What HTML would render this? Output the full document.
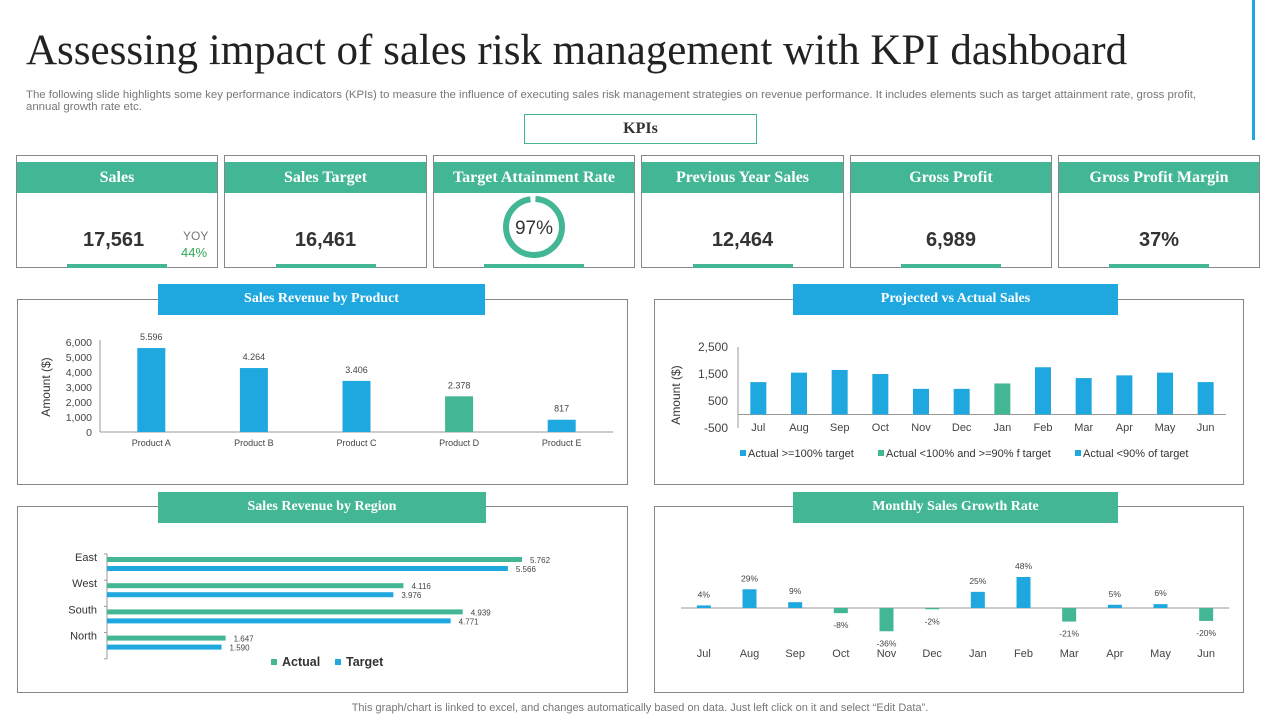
<!DOCTYPE html>
<html><head><meta charset="utf-8"><style>
*{box-sizing:border-box;margin:0;padding:0}
body{width:1280px;height:720px;background:#fff;position:relative;overflow:hidden;font-family:"Liberation Sans",sans-serif;color:#333}
.abs{position:absolute}
.serif{font-family:"Liberation Serif",serif}
.card{position:absolute;top:155px;height:113px;border:1px solid #888;background:#fff}
.card .hd{position:absolute;left:0;right:0;top:6px;height:31px;background:#43b795;color:#fff;font:bold 16px "Liberation Serif",serif;text-align:center;line-height:31px}
.card .val{position:absolute;top:73px;left:0;right:0;text-align:center;font:bold 20px "Liberation Sans",sans-serif;color:#333}
.card .bar{position:absolute;bottom:-1px;left:50%;width:100px;margin-left:-50px;height:4px;background:#43b795}
.panel{position:absolute;border:1px solid #888}
.tab{position:absolute;height:31px;color:#fff;font:bold 14px "Liberation Serif",serif;text-align:center;line-height:30px}
svg text{font-family:"Liberation Sans",sans-serif}
</style></head><body>
<div class="abs" style="left:1252px;top:0;width:3px;height:140px;background:#1fa8e0"></div>
<div class="abs serif" style="left:26px;top:27px;font-size:43px;line-height:48px;color:#222">Assessing impact of sales risk management with KPI dashboard</div>
<div class="abs" style="left:26px;top:89px;width:1200px;font-size:11.4px;line-height:12px;color:#777">The following slide highlights some key performance indicators (KPIs) to measure the influence of executing sales risk management strategies on revenue performance. It includes elements such as target attainment rate, gross profit, annual growth rate etc.</div>
<div class="abs serif" style="left:524px;top:114px;width:233px;height:30px;border:1px solid #43b795;text-align:center;line-height:28px;font-size:16px;font-weight:bold;color:#333">KPIs</div>

<div class="card" style="left:16px;width:202px"><div class="hd">Sales</div><div class="val" style="left:0;right:auto;width:200px;text-align:left;padding-left:66px">17,561</div><div class="abs" style="left:166px;top:73px;font-size:12px;color:#777">YOY</div><div class="abs" style="left:164px;top:89px;font-size:13px;color:#2eaa55">44%</div><div class="bar"></div></div>
<div class="card" style="left:224px;width:203px"><div class="hd">Sales Target</div><div class="val">16,461</div><div class="bar"></div></div>
<div class="card" style="left:433px;width:202px"><div class="hd">Target Attainment Rate</div>
<svg class="abs" style="left:67px;top:38px" width="66" height="66"><circle cx="33" cy="33" r="28" fill="none" stroke="#43b795" stroke-width="6" stroke-dasharray="170.6 5.3" transform="rotate(-87 33 33)"/><text x="33" y="40" text-anchor="middle" font-size="19" fill="#333">97%</text></svg><div class="bar"></div></div>
<div class="card" style="left:641px;width:203px"><div class="hd">Previous Year Sales</div><div class="val">12,464</div><div class="bar"></div></div>
<div class="card" style="left:850px;width:202px"><div class="hd">Gross Profit</div><div class="val">6,989</div><div class="bar"></div></div>
<div class="card" style="left:1058px;width:202px"><div class="hd">Gross Profit Margin</div><div class="val">37%</div><div class="bar"></div></div>

<div class="panel" style="left:17px;top:299px;width:611px;height:186px"></div>
<div class="tab" style="left:158px;top:284px;width:327px;background:#1fa8e0">Sales Revenue by Product</div>
<div class="panel" style="left:654px;top:299px;width:590px;height:186px"></div>
<div class="tab" style="left:793px;top:284px;width:325px;background:#1fa8e0">Projected vs Actual Sales</div>
<div class="panel" style="left:17px;top:506px;width:611px;height:187px"></div>
<div class="tab" style="left:158px;top:492px;width:328px;background:#43b795">Sales Revenue by Region</div>
<div class="panel" style="left:654px;top:506px;width:590px;height:187px"></div>
<div class="tab" style="left:793px;top:492px;width:325px;background:#43b795">Monthly Sales Growth Rate</div>

<svg class="abs" style="left:0;top:0" width="1280" height="720" id="charts">
<g id="g1"></g><g id="g2"></g><g id="g3"></g><g id="g4"></g>
</svg>
<div class="abs" style="left:0;width:1280px;top:702px;text-align:center;font-size:11px;color:#777">This graph/chart is linked to excel, and changes automatically based on data. Just left click on it and select “Edit Data”.</div>
<script>
const productCats=["Product A","Product B","Product C","Product D","Product E"];
const productVals=[5596,4264,3406,2378,817];
const productTicks=[0,1000,2000,3000,4000,5000,6000];
const months=["Jul","Aug","Sep","Oct","Nov","Dec","Jan","Feb","Mar","Apr","May","Jun"];
const actualVals=[1200,1550,1650,1500,950,950,1150,1750,1350,1450,1550,1200];
const actualStatus=[0,0,0,0,0,0,1,0,0,0,0,0];
const projTicks=[-500,500,1500,2500];
const regions=["East","West","South","North"];
const regionActual=[5762,4116,4939,1647];
const regionTarget=[5566,3976,4771,1590];
const growthVals=[4,29,9,-8,-36,-2,25,48,-21,5,6,-20];
const BLUE="#1fa8e0",GREEN="#43b795",NS="http://www.w3.org/2000/svg";
function el(p,t,a,txt){const e=document.createElementNS(NS,t);for(const k in a)e.setAttribute(k,a[k]);if(txt!=null)e.textContent=txt;p.appendChild(e);return e;}
const fmt=v=>v.toLocaleString("en-US");
// Chart 1
(function(){const g=document.getElementById("g1");
const x0=100,x1=613,yz=432,yt=342,maxV=6000;const y=v=>yz-(v/maxV)*(yz-yt);const bw=(x1-x0)/productCats.length;
el(g,"line",{x1:x0,y1:yt-2,x2:x0,y2:yz,stroke:"#999"});el(g,"line",{x1:x0,y1:yz,x2:x1,y2:yz,stroke:"#999"});
productTicks.forEach(t=>{const e=el(g,"text",{x:x0-8,y:y(t)+4,"text-anchor":"end","font-size":10.5,fill:"#444"},fmt(t));});
const at=el(g,"text",{x:50,y:yz-45,"text-anchor":"middle","font-size":12,fill:"#333","font-family":"Liberation Serif",transform:`rotate(-90 50 ${yz-45})`},"Amount ($)");
productCats.forEach((c,i)=>{const cx=x0+bw*(i+.5),v=productVals[i];
const r=el(g,"rect",{x:cx-14,y:y(v),width:28,height:yz-y(v),fill:i==3?GREEN:BLUE});
el(g,"text",{x:cx,y:y(v)-8,"text-anchor":"middle","font-size":9,fill:"#444","font-family":"Liberation Serif"},fmt(v).replace(",","."));
const l=el(g,"text",{x:cx,y:yz+14,"text-anchor":"middle","font-size":9,fill:"#444"},c);});})();
// Chart 2
(function(){const g=document.getElementById("g2");
const x0=738,x1=1226,ylo=428,yhi=347,vlo=-500,vhi=2500;const y=v=>ylo-(v-vlo)/(vhi-vlo)*(ylo-yhi);const bw=(x1-x0)/months.length;
el(g,"line",{x1:x0,y1:yhi,x2:x0,y2:ylo,stroke:"#999"});el(g,"line",{x1:x0,y1:y(0),x2:x1,y2:y(0),stroke:"#999"});
projTicks.forEach(t=>{const e=el(g,"text",{x:x0-10,y:y(t)+4,"text-anchor":"end","font-size":12,fill:"#444"},fmt(t));});
const at=el(g,"text",{x:680,y:395,"text-anchor":"middle","font-size":12,fill:"#333","font-family":"Liberation Serif",transform:"rotate(-90 680 395)"},"Amount ($)");
months.forEach((m,i)=>{const cx=x0+bw*(i+.5),v=actualVals[i];
const r=el(g,"rect",{x:cx-8,y:y(v),width:16,height:y(0)-y(v),fill:actualStatus[i]?GREEN:BLUE});
el(g,"text",{x:cx,y:431,"text-anchor":"middle","font-size":11,fill:"#444"},m);});
[["Actual >=100% target",740,BLUE],["Actual <100% and >=90% f target",878,GREEN],["Actual <90% of target",1075,BLUE]].forEach(L=>{el(g,"rect",{x:L[1],y:450,width:6,height:6,fill:L[2]});const t=el(g,"text",{x:L[1]+8,y:457,"font-size":11,fill:"#333","font-family":"Liberation Serif"},L[0]);});})();
// Chart 3
(function(){const g=document.getElementById("g3");
const x0=107,sc=(522-x0)/5762,ytop=554,rowH=26.2;
el(g,"line",{x1:x0,y1:ytop,x2:x0,y2:ytop+rowH*4,stroke:"#999"});
regions.forEach((r,i)=>{const yb=ytop+rowH*i;
el(g,"line",{x1:x0-3,y1:yb,x2:x0,y2:yb,stroke:"#999"});
const l=el(g,"text",{x:97,y:yb+7,"text-anchor":"end","font-size":11,fill:"#333"},r);
const a=el(g,"rect",{x:x0,y:yb+3,width:regionActual[i]*sc,height:5,fill:GREEN});
const t=el(g,"rect",{x:x0,y:yb+12,width:regionTarget[i]*sc,height:5,fill:BLUE});
el(g,"text",{x:x0+regionActual[i]*sc+8,y:yb+9,"font-size":8,fill:"#444","font-family":"Liberation Serif"},fmt(regionActual[i]).replace(",","."));
el(g,"text",{x:x0+regionTarget[i]*sc+8,y:yb+18,"font-size":8,fill:"#444","font-family":"Liberation Serif"},fmt(regionTarget[i]).replace(",","."));});
el(g,"line",{x1:x0-3,y1:ytop+rowH*4,x2:x0,y2:ytop+rowH*4,stroke:"#999"});
[["Actual",271,GREEN],["Target",335,BLUE]].forEach(L=>{el(g,"rect",{x:L[1],y:659,width:6,height:6,fill:L[2]});const t=el(g,"text",{x:L[1]+11,y:666,"font-size":12.5,"font-weight":"bold",fill:"#333","font-family":"Liberation Serif"},L[0]);});})();
// Chart 4
(function(){const g=document.getElementById("g4");
const x0=681,x1=1229,yz=608,sc=31/48;const y=v=>yz-v*sc;const bw=(x1-x0)/months.length;
el(g,"line",{x1:x0,y1:yz,x2:x1,y2:yz,stroke:"#999"});
months.forEach((m,i)=>{const cx=x0+bw*(i+.5),v=growthVals[i];
const r=el(g,"rect",{x:cx-7,y:Math.min(y(v),yz),width:14,height:Math.abs(v*sc),fill:v>=0?BLUE:GREEN});
el(g,"text",{x:cx,y:v>=0?y(v)-8:y(v)+15,"text-anchor":"middle","font-size":8.5,fill:"#444","font-family":"Liberation Serif"},v+"%");
el(g,"text",{x:cx,y:657,"text-anchor":"middle","font-size":11,fill:"#444"},m);});})();
</script>
</body></html>
